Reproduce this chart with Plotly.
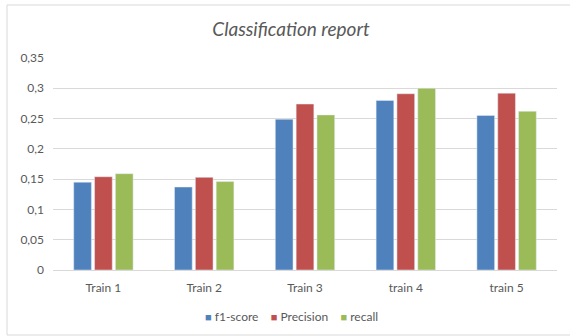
import plotly.graph_objects as go

categories = ["Train 1", "Train 2", "Train 3", "train 4", "train 5"]
f1_score = [0.145, 0.137, 0.249, 0.280, 0.255]
precision = [0.154, 0.153, 0.274, 0.291, 0.292]
recall = [0.159, 0.146, 0.256, 0.300, 0.262]
series_names = ["f1-score", "Precision", "recall"]
series_colors = ["#4F81BD", "#C0504D", "#9BBB59"]
y_ticks = [0, 0.05, 0.1, 0.15, 0.2, 0.25, 0.3, 0.35]
y_tick_labels = ["0", "0,05", "0,1", "0,15", "0,2", "0,25", "0,3", "0,35"]

W, H = 570, 336
ml, mr, mt, mb = 53, 13, 58, 66
FONT = "Lato, Open Sans, sans-serif"
GREY = "#595959"

fig = go.Figure()
for name, vals, col in zip(series_names, [f1_score, precision, recall], series_colors):
    fig.add_bar(x=categories, y=vals, name=name, marker_color=col, showlegend=False)

pw = W - ml - mr
ph = H - mt - mb
# outer chart border in paper coords
x0 = (7 - ml) / pw
x1 = (575 - ml) / pw
y1 = (H - mb - 5) / ph
y0 = (H - mb - 335) / ph

# compact Excel-style legend built from the series names/colours
sp = "&nbsp;" * 4
legend_text = sp.join(
    f"<span style='color:{c};font-size:11px'>■</span>&nbsp;{n}"
    for n, c in zip(series_names, series_colors)
)

fig.update_layout(
    width=W, height=H,
    margin=dict(l=ml, r=mr, t=mt, b=mb),
    paper_bgcolor="white", plot_bgcolor="white",
    font=dict(family=FONT, color=GREY, size=12),
    title=dict(text="<i>Classification report</i>", x=(291 - ml) / pw, xref="paper",
               xanchor="center", y=1 - 29 / H, yanchor="middle",
               font=dict(size=19, color=GREY, family=FONT)),
    barmode="group", bargap=0.38, bargroupgap=0.15,
    xaxis=dict(showgrid=False, showline=True, linecolor="#D9D9D9", linewidth=1,
               ticks="", ticklabelstandoff=7, tickfont=dict(size=12, color=GREY)),
    yaxis=dict(range=[0, 0.35], tickvals=y_ticks, ticktext=y_tick_labels,
               showgrid=True, gridcolor="#D9D9D9", gridwidth=1, zeroline=False,
               showline=False, ticks="", ticklabelstandoff=8,
               tickfont=dict(size=12, color=GREY)),
    annotations=[dict(text=legend_text, xref="paper", yref="paper",
                      x=(291 - ml) / pw, y=(H - mb - 316) / ph, xanchor="center",
                      yanchor="middle", showarrow=False,
                      font=dict(size=12, color=GREY, family=FONT))],
    shapes=[dict(type="rect", xref="paper", yref="paper", x0=x0, x1=x1, y0=y0, y1=y1,
                 line=dict(color="#D9D9D9", width=1), fillcolor="rgba(0,0,0,0)", layer="below")],
)

fig.write_html("out.html")
